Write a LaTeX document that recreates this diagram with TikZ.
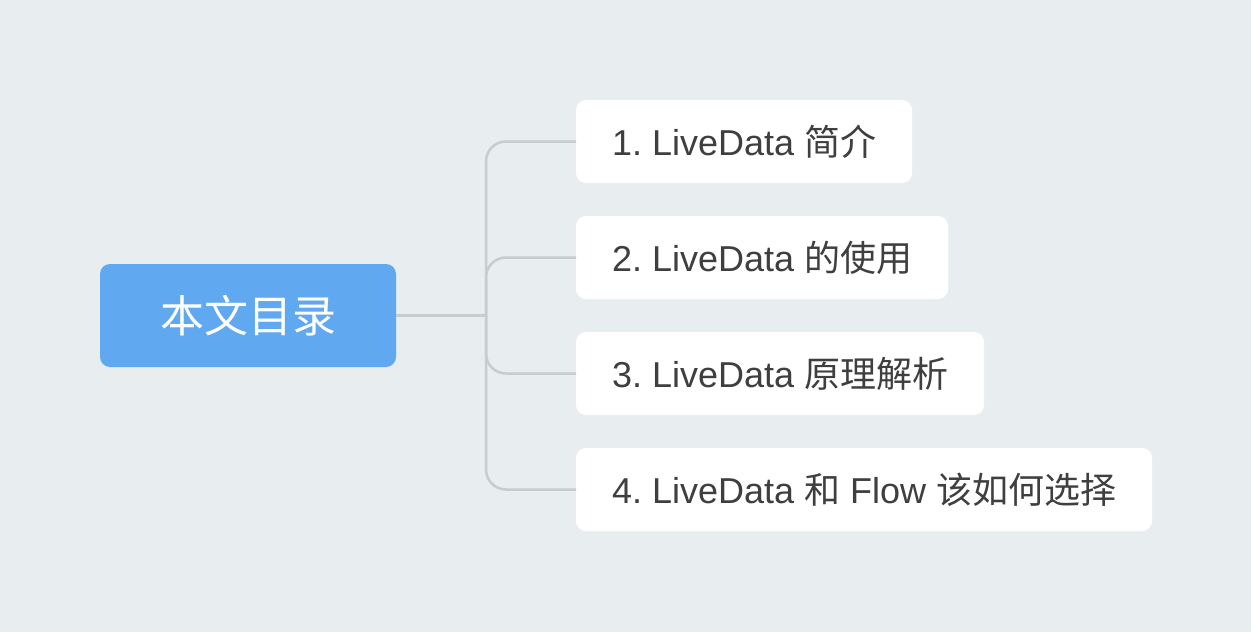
\documentclass[tikz,border=0pt]{standalone}
\usepackage{fontspec}
\setmainfont{Liberation Sans}
\newfontfamily\cjk{Noto Sans CJK SC}
\usepackage{xcolor}
\usetikzlibrary{positioning,calc}
\definecolor{PageBg}{HTML}{E8EDF0}
\definecolor{RootBlue}{HTML}{60A9F1}
\definecolor{BranchGray}{HTML}{C9CCCF}
\definecolor{TextGray}{HTML}{3F3F3F}
\frenchspacing

\begin{document}
\begin{tikzpicture}[x=1pt,y=-1pt]
        % Style cho các ô
        \tikzstyle{rootbox} = [
            fill=RootBlue,
            rounded corners=10pt,
            minimum width=296pt,
            minimum height=103pt,
            text=white,
            font=\cjk\fontsize{44}{48}\selectfont,
            outer sep=0pt
        ]
        \tikzstyle{topic} = [
            fill=white,
            rounded corners=10pt,
            minimum height=83pt,
            inner xsep=36pt,
            text=TextGray,
            font=\fontsize{36}{40}\selectfont,
            anchor=west,
            outer sep=0pt
        ]
        \tikzstyle{branch} = [
            draw=BranchGray,
            line width=2.5pt,
            rounded corners=20pt
        ]

        % Nền
        \fill[PageBg] (0,0) rectangle (1251,632);
        \useasboundingbox (0,0) rectangle (1251,632);

        % Ô gốc
        \node[rootbox] (root) at (248,315.5) {本文目录};
        \coordinate (hub) at (486,315.5);

        % Các ô con (1-4)
        \foreach \idx/\txt in {1/{1. LiveData {\cjk 简介}},
                               2/{2. LiveData {\cjk 的使用}},
                               3/{3. LiveData {\cjk 原理解析}},
                               4/{4. LiveData {\cjk 和} Flow {\cjk 该如何选择}}} {
            \node[topic] (c\idx) at (576, 141.5+116*\idx-116) {\txt};
        }

        % Đường nối
        \draw[branch] (root.east) -- (hub);
        \foreach \idx in {1,...,4} {
            \draw[branch] (hub) |- (c\idx.west);
        }
    \end{tikzpicture}
\end{document}
